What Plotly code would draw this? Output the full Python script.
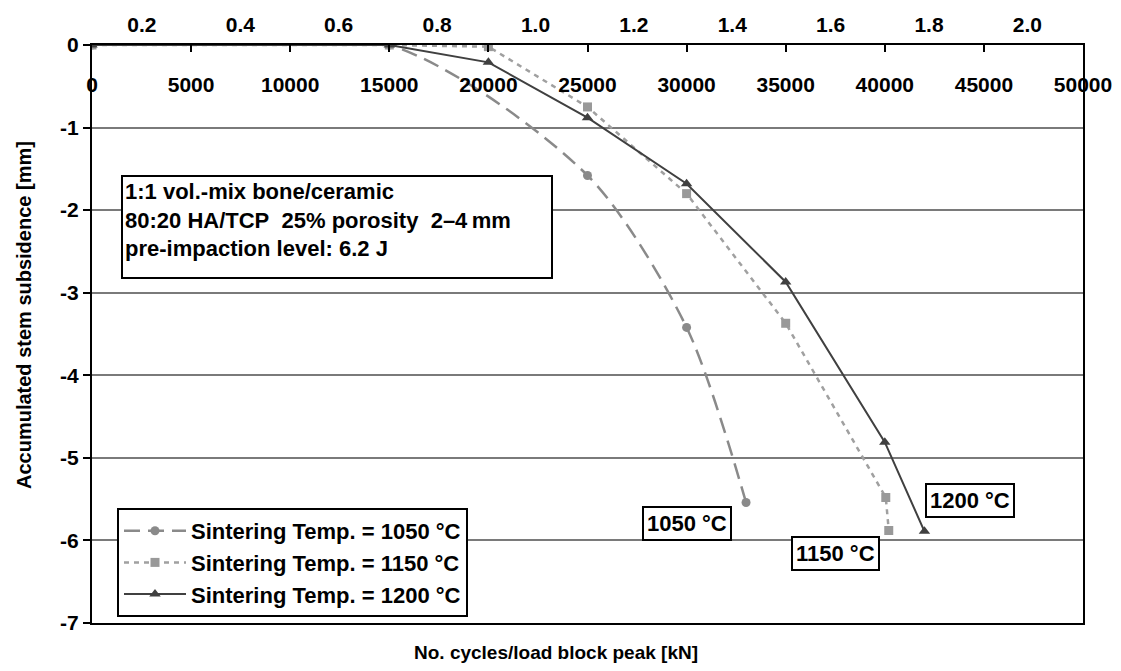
import plotly.graph_objects as go

# ---- data ----
x_1050 = [0, 15000, 25000, 30000, 33000]
y_1050 = [0, 0, -1.58, -3.42, -5.54]

x_1150 = [0, 15000, 20000, 25000, 30000, 35000, 40050, 40200]
y_1150 = [0, 0, -0.02, -0.75, -1.80, -3.37, -5.48, -5.88]

x_1200 = [0, 15000, 20000, 25000, 30000, 35000, 40000, 42000]
y_1200 = [0, 0, -0.21, -0.88, -1.68, -2.87, -4.81, -5.89]

names = ["Sintering Temp. = 1050\u00a0°C", "Sintering Temp. = 1150\u00a0°C", "Sintering Temp. = 1200\u00a0°C"]
top_ticks = [0.2, 0.4, 0.6, 0.8, 1.0, 1.2, 1.4, 1.6, 1.8, 2.0]
top_labels = ["0.2", "0.4", "0.6", "0.8", "1.0", "1.2", "1.4", "1.6", "1.8", "2.0"]
bottom_ticks = [0, 5000, 10000, 15000, 20000, 25000, 30000, 35000, 40000, 45000, 50000]
bottom_labels = ["0", "5000", "10000", "15000", "20000", "25000", "30000", "35000", "40000", "45000", "50000"]
y_ticks = [0, -1, -2, -3, -4, -5, -6, -7]
y_labels = ["0", "-1", "-2", "-3", "-4", "-5", "-6", "-7"]

info_text = ("1:1 vol.-mix bone/ceramic<br>"
             "80:20 HA/TCP\u00a0\u00a025% porosity\u00a0\u00a02–4\u2009mm<br>"
             "pre-impaction level: 6.2 J")
end_labels = [("1050\u00a0°C", 30000, -5.79), ("1150\u00a0°C", 37500, -6.16), ("1200\u00a0°C", 44300, -5.52)]

FONT = "Arial, Liberation Sans, sans-serif"

# page offset (body margin) compensation
OFF = 8
PL, PR, PT, PB = 92, 1083, 45, 623   # plot area in page pixels
PW, PH = PR - PL, PB - PT

def px(xp):
    return (xp - PL) / PW

def py(yp):
    return (PB - yp) / PH

fig = go.Figure()
fig.add_trace(go.Scatter(
    x=x_1050, y=y_1050, name=names[0], mode="lines+markers",
    line=dict(color="#8a8a8a", width=2.5, dash="16px,8px", shape="spline", smoothing=0.8),
    marker=dict(symbol="circle", size=9, color="#8a8a8a")))
fig.add_trace(go.Scatter(
    x=x_1150, y=y_1150, name=names[1], mode="lines+markers",
    line=dict(color="#a0a0a0", width=2.5, dash="5px,5px"),
    marker=dict(symbol="square", size=9, color="#999999")))
fig.add_trace(go.Scatter(
    x=x_1200, y=y_1200, name=names[2], mode="lines+markers",
    line=dict(color="#404040", width=2),
    marker=dict(symbol="triangle-up", size=10, color="#404040")))
# invisible trace to activate top axis
fig.add_trace(go.Scatter(x=[], y=[], xaxis="x2", showlegend=False, hoverinfo="skip"))

tickfont = dict(family=FONT, size=21, color="black", weight="bold")

annotations = [
    dict(text=info_text, xref="paper", yref="paper", x=px(121), y=py(175),
         xanchor="left", yanchor="top", align="left", valign="top", showarrow=False,
         width=424, height=96, bordercolor="black", borderwidth=2, borderpad=2, bgcolor="white",
         font=dict(family=FONT, size=22, color="black", weight="bold")),
    dict(text="No. cycles/load block peak [kN]", xref="paper", yref="paper",
         x=px(556), y=py(652), xanchor="center", yanchor="middle",
         showarrow=False, font=dict(family=FONT, size=19, color="black", weight="bold")),
    dict(text="Accumulated stem subsidence [mm]", xref="paper", yref="paper",
         x=px(24), y=py(315), xanchor="center", yanchor="middle",
         textangle=-90, showarrow=False, font=dict(family=FONT, size=20, color="black", weight="bold")),
]
for txt, xx, yy in end_labels:
    annotations.append(dict(text=txt, x=xx, y=yy, xref="x", yref="y", showarrow=False,
                            bordercolor="black", borderwidth=2, borderpad=3, bgcolor="white",
                            font=dict(family=FONT, size=22, color="black", weight="bold")))

fig.update_layout(
    width=1121, height=671,
    margin=dict(l=PL - OFF, r=1121 - PR + OFF, t=PT - OFF, b=671 - PB + OFF),
    paper_bgcolor="white", plot_bgcolor="white",
    showlegend=True,
    legend=dict(x=px(117), y=py(508), xanchor="left", yanchor="top",
                bordercolor="black", borderwidth=2, bgcolor="white",
                font=dict(family=FONT, size=22, color="black", weight="bold"),
                itemwidth=62, tracegroupgap=0),
    xaxis=dict(range=[0, 50000], side="top", tickvals=bottom_ticks, ticktext=bottom_labels,
               ticks="inside", ticklen=7, tickwidth=2, tickcolor="black",
               ticklabelposition="inside", ticklabeloverflow="allow", ticklabelstandoff=27,
               showline=True, linecolor="black", linewidth=2, mirror=True,
               showgrid=False, zeroline=False,
               tickfont=tickfont, automargin=False),
    xaxis2=dict(range=[0.0985, 2.113], overlaying="x", side="top", anchor="y",
                tickvals=top_ticks, ticktext=top_labels, ticks="", showline=False,
                showgrid=False, zeroline=False, tickfont=tickfont, ticklabelstandoff=8,
                automargin=False),
    yaxis=dict(range=[-7, 0], tickvals=y_ticks, ticktext=y_labels,
               ticks="outside", ticklen=7, tickwidth=2, tickcolor="black",
               showline=True, linecolor="black", linewidth=2, mirror=True,
               showgrid=True, gridcolor="#7a7a7a", gridwidth=1.5, zeroline=False,
               tickfont=tickfont, automargin=False),
    annotations=annotations,
)

fig.write_html("out.html")
